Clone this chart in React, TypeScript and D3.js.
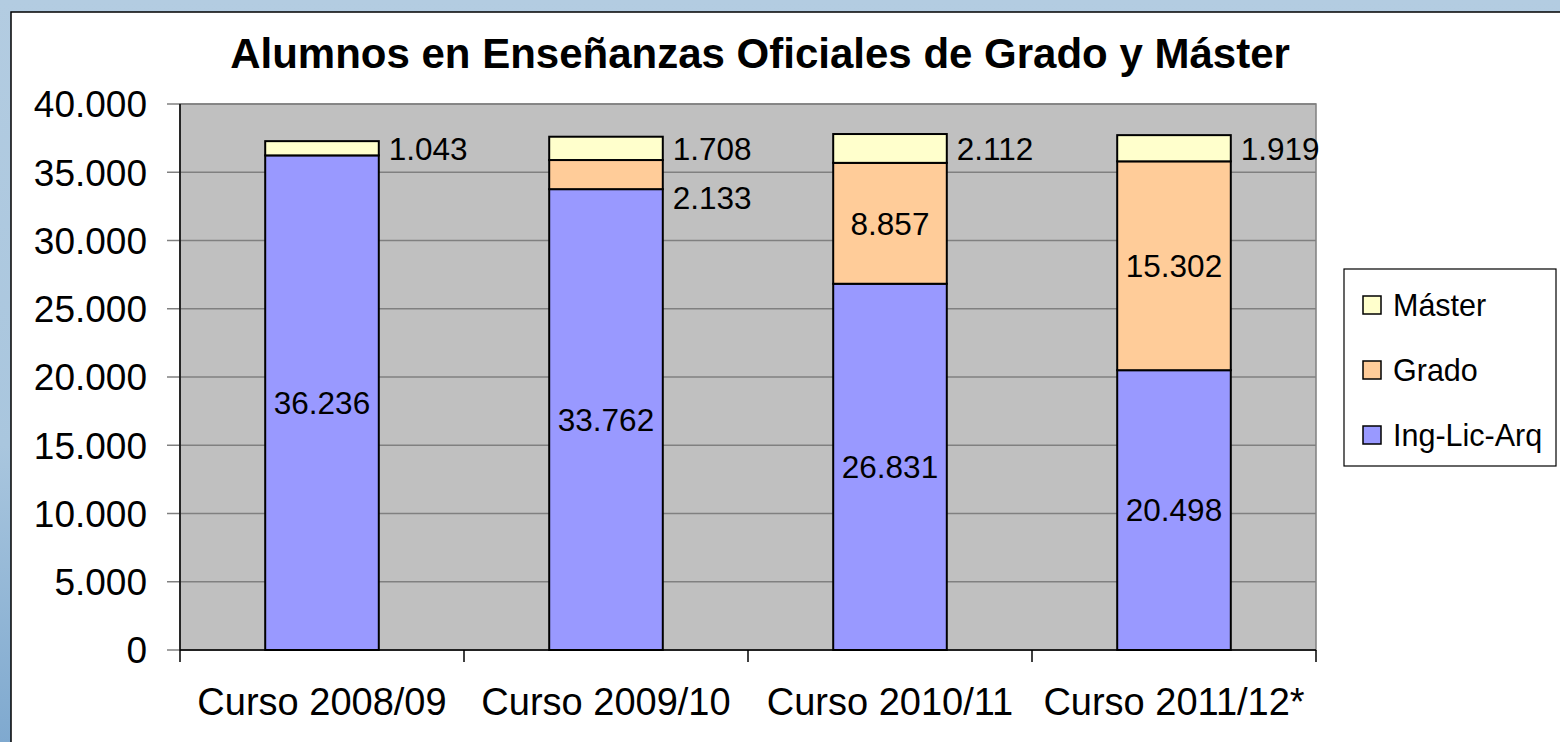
import React from "react";
import * as d3 from "d3";

const categories = ["Curso 2008/09", "Curso 2009/10", "Curso 2010/11", "Curso 2011/12*"];
const ingLicArq = [36236, 33762, 26831, 20498];
const grado = [0, 2133, 8857, 15302];
const master = [1043, 1708, 2112, 1919];
const seriesNames = ["Ing-Lic-Arq", "Grado", "Máster"];
const seriesColors = ["#9999FF", "#FFCC99", "#FFFFCC"];
const yTicks = [0, 5000, 10000, 15000, 20000, 25000, 30000, 35000, 40000];

const W = 1560;
const H = 742;
const plot = { left: 180, right: 1316, top: 104, bottom: 650 };
const FONT = "'Liberation Sans', Arial, sans-serif";

const fmt = (v: number) => {
  const s = Math.round(v).toString();
  return s.replace(/\B(?=(\d{3})+(?!\d))/g, ".");
};

export default function App() {
  const x = d3.scaleBand<string>().domain(categories).range([plot.left, plot.right]).padding(0);
  const y = d3.scaleLinear().domain([0, 40000]).range([plot.bottom, plot.top]);
  const barW = x.bandwidth() * 0.4;

  const rows = categories.map((c, i) => ({
    cat: c,
    "Ing-Lic-Arq": ingLicArq[i],
    Grado: grado[i],
    "Máster": master[i],
  }));
  const stack = d3.stack<any>().keys(seriesNames)(rows);

  const legendItems = [
    { name: "Máster", color: seriesColors[2] },
    { name: "Grado", color: seriesColors[1] },
    { name: "Ing-Lic-Arq", color: seriesColors[0] },
  ];

  return (
    <svg
      width={W}
      height={H}
      style={{ position: "absolute", left: 0, top: 0, display: "block" }}
      fontFamily={FONT}
    >
      <defs>
        <linearGradient id="bgGrad" x1="0" y1="0" x2="0" y2="1">
          <stop offset="0" stopColor="#B3CCE1" />
          <stop offset="0.6" stopColor="#A9C6DE" />
          <stop offset="1" stopColor="#7FA9CF" />
        </linearGradient>
      </defs>
      <rect x={0} y={0} width={W} height={H} fill="url(#bgGrad)" />
      <rect x={11} y={12} width={W} height={H} fill="#FFFFFF" stroke="#000" strokeWidth={1.5} />

      {/* title */}
      <text x={760} y={68} textAnchor="middle" fontSize={42} fontWeight="bold" fill="#000">
        Alumnos en Enseñanzas Oficiales de Grado y Máster
      </text>

      {/* plot area */}
      <rect
        x={plot.left}
        y={plot.top}
        width={plot.right - plot.left}
        height={plot.bottom - plot.top}
        fill="#C0C0C0"
        stroke="#808080"
        strokeWidth={1.5}
      />
      {yTicks.map((t) => (
        <g key={t}>
          <line x1={plot.left} x2={plot.right} y1={y(t)} y2={y(t)} stroke="#808080" strokeWidth={1.5} />
          <line x1={167} x2={plot.left} y1={y(t)} y2={y(t)} stroke="#808080" strokeWidth={1.5} />
          <text x={147} y={y(t)} dy="0.36em" textAnchor="end" fontSize={37} fill="#000">
            {fmt(t)}
          </text>
        </g>
      ))}

      {/* bars */}
      {stack.map((s, si) =>
        s.map((d, i) => {
          const v = d[1] - d[0];
          if (v <= 0) return null;
          const cx = (x(categories[i]) as number) + x.bandwidth() / 2;
          return (
            <rect
              key={`${si}-${i}`}
              x={cx - barW / 2}
              y={y(d[1])}
              width={barW}
              height={y(d[0]) - y(d[1])}
              fill={seriesColors[si]}
              stroke="#000"
              strokeWidth={2}
            />
          );
        })
      )}

      {/* axes */}
      <line x1={plot.left} x2={plot.left} y1={plot.top} y2={plot.bottom} stroke="#000" strokeWidth={1.5} />
      <line x1={plot.left} x2={plot.right} y1={plot.bottom} y2={plot.bottom} stroke="#000" strokeWidth={1.5} />
      {[...categories.map((c) => x(c) as number), plot.right].map((tx, i) => (
        <line key={i} x1={tx} x2={tx} y1={plot.bottom} y2={662} stroke="#000" strokeWidth={1.5} />
      ))}
      {categories.map((c) => (
        <text
          key={c}
          x={(x(c) as number) + x.bandwidth() / 2}
          y={715}
          textAnchor="middle"
          fontSize={38}
          fill="#000"
        >
          {c}
        </text>
      ))}

      {/* data labels */}
      {stack.map((s, si) =>
        s.map((d, i) => {
          const v = d[1] - d[0];
          if (v <= 0) return null;
          const cx = (x(categories[i]) as number) + x.bandwidth() / 2;
          const mid = (y(d[0]) + y(d[1])) / 2;
          const segH = y(d[0]) - y(d[1]);
          let lx = cx;
          let ly = mid;
          let anchor = "middle";
          if (si === 2) {
            lx = cx + barW / 2 + 10;
            anchor = "start";
          } else if (segH < 50) {
            lx = cx + barW / 2 + 10;
            ly = y(d[0]) + 9;
            anchor = "start";
          }
          return (
            <text
              key={`l-${si}-${i}`}
              x={lx}
              y={ly}
              dy="0.36em"
              textAnchor={anchor}
              fontSize={31.5}
              fill="#000"
            >
              {fmt(v)}
            </text>
          );
        })
      )}

      {/* legend */}
      <rect x={1344} y={269} width={212} height={197} fill="#FFFFFF" stroke="#000" strokeWidth={1.2} />
      {legendItems.map((it, i) => {
        const cy = 305 + i * 65;
        return (
          <g key={it.name}>
            <rect x={1363} y={cy - 9} width={18} height={18} fill={it.color} stroke="#000" strokeWidth={1.5} />
            <text x={1393} y={cy} dy="0.36em" fontSize={30.5} fill="#000">
              {it.name}
            </text>
          </g>
        );
      })}
    </svg>
  );
}
